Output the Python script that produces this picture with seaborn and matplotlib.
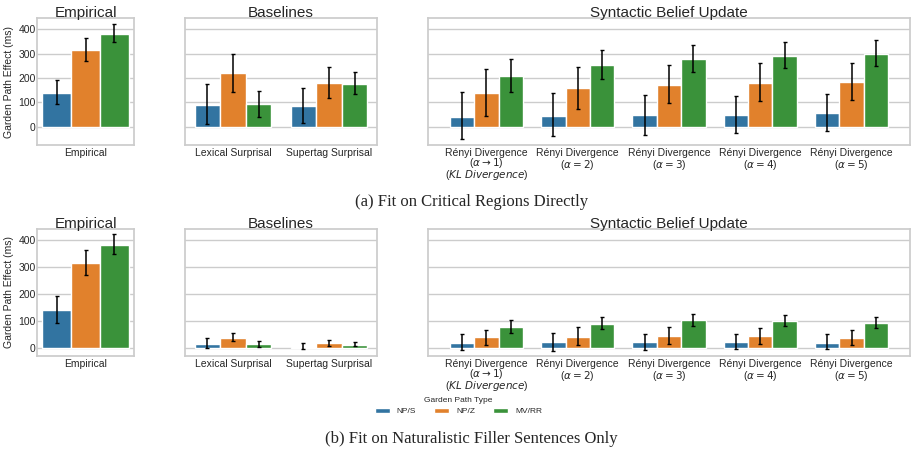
import numpy as np
import pandas as pd
import matplotlib.pyplot as plt
import seaborn as sns
from matplotlib.patches import Patch

# Garden path types (hue)
gp_types = ["NP/S", "NP/Z", "MV/RR"]

# Model groups
empirical_models = ["Empirical"]
baseline_models = ["Lexical Surprisal", "Supertag Surprisal"]
sbu_models = [
    "Rényi Divergence\n($\\alpha \\rightarrow 1$)\n($\\mathit{KL\\ Divergence}$)",
    "Rényi Divergence\n($\\alpha = 2$)",
    "Rényi Divergence\n($\\alpha = 3$)",
    "Rényi Divergence\n($\\alpha = 4$)",
    "Rényi Divergence\n($\\alpha = 5$)",
]
all_models = empirical_models + baseline_models + sbu_models

# (a) Fit on critical regions directly: one row per model, columns NP/S, NP/Z, MV/RR
crit_mean = [
    [140, 315, 381],
    [89, 219, 92],
    [85, 179, 177],
    [42, 137, 207],
    [45, 158, 252],
    [47, 171, 278],
    [48, 179, 292],
    [55, 182, 301],
]
crit_lo = [
    [93, 272, 347],
    [10, 141, 41],
    [14, 119, 133],
    [-51, 44, 141],
    [-40, 75, 195],
    [-32, 96, 227],
    [-27, 104, 240],
    [-19, 110, 251],
]
crit_hi = [
    [192, 363, 421],
    [174, 301, 149],
    [160, 244, 226],
    [141, 236, 277],
    [137, 244, 314],
    [129, 253, 338],
    [127, 260, 349],
    [136, 260, 356],
]

# (b) Fit on naturalistic filler sentences only
filler_mean = [
    [140, 315, 381],
    [14, 37, 14],
    [5, 17, 12],
    [20, 39, 77],
    [21, 42, 89],
    [21, 46, 103],
    [21, 43, 99],
    [20, 37, 92],
]
filler_lo = [
    [93, 272, 347],
    [-1, 24, 4],
    [-5, 7, 6],
    [-9, 12, 57],
    [-10, 11, 71],
    [-6, 16, 82],
    [-4, 16, 82],
    [-4, 12, 75],
]
filler_hi = [
    [192, 363, 421],
    [35, 56, 27],
    [19, 30, 21],
    [52, 68, 102],
    [56, 77, 113],
    [53, 78, 124],
    [52, 75, 123],
    [50, 67, 113],
]


def to_frame(mean, lo, hi):
    rows = []
    for i, m in enumerate(all_models):
        for j, t in enumerate(gp_types):
            rows.append({"model": m, "type": t, "effect": mean[i][j],
                         "lo": lo[i][j], "hi": hi[i][j]})
    return pd.DataFrame(rows)


df_crit = to_frame(crit_mean, crit_lo, crit_hi)
df_filler = to_frame(filler_mean, filler_lo, filler_hi)

sns.set_theme(style="whitegrid")
plt.rcParams["font.family"] = ["Liberation Sans", "DejaVu Sans"]

fig = plt.figure(figsize=(9.17, 4.57), dpi=100)

W, H = 917.0, 457.0
cols = [(37, 97, empirical_models, "Empirical", (-0.45, 0.45)),
        (185, 192, baseline_models, "Baselines", (-0.5, 1.5)),
        (428, 482, sbu_models, "Syntactic Belief Update", (-0.64, 4.64))]
rows = [(18, 145, df_crit, (-75, 447)),
        (229, 356, df_filler, (-30, 441))]

palette = sns.color_palette("tab10", n_colors=3)

for top, bottom, df, ylim in rows:
    for k, (left, width, models, title, xlim) in enumerate(cols):
        ax = fig.add_axes([left / W, 1 - bottom / H, width / W, (bottom - top) / H])
        sub = df[df["model"].isin(models)]
        sns.barplot(data=sub, x="model", y="effect", hue="type", order=models,
                    hue_order=gp_types, palette=palette, errorbar=None,
                    width=0.8, legend=False, ax=ax)
        # error bars at each bar's centre
        for h, cont in zip(gp_types, ax.containers):
            for bar in cont:
                xc = bar.get_x() + bar.get_width() / 2
                m = models[int(round(xc))]
                r = sub[(sub["model"] == m) & (sub["type"] == h)].iloc[0]
                ax.errorbar(xc, r["effect"],
                            yerr=[[r["effect"] - r["lo"]], [r["hi"] - r["effect"]]],
                            fmt="none", ecolor="black", elinewidth=1.1,
                            capsize=1.5, capthick=1.0)
        ax.set_xlim(*xlim)
        ax.set_ylim(*ylim)
        ax.set_yticks([0, 100, 200, 300, 400])
        ax.set_xlabel("")
        ax.set_title(title, fontsize=11, pad=0.5)
        ax.tick_params(axis="x", labelsize=7.5, pad=2, length=0)
        ax.tick_params(axis="y", labelsize=7.5, pad=1, length=0)
        for lab in ax.get_xticklabels():
            if "KL" in lab.get_text():
                lab.set_linespacing(0.82)
            else:
                lab.set_linespacing(1.0)
        if k == 0:
            ax.set_ylabel("Garden Path Effect (ms)", fontsize=7.5)
            ax.yaxis.set_label_coords(-0.24, 0.5)
        else:
            ax.set_ylabel("")
            ax.set_yticklabels([])

fig.text(0.514, 0.558, "(a) Fit on Critical Regions Directly",
         ha="center", va="center", fontsize=12, family=["Liberation Serif"])
fig.text(0.514, 0.039, "(b) Fit on Naturalistic Filler Sentences Only",
         ha="center", va="center", fontsize=12, family=["Liberation Serif"])

handles = [Patch(facecolor=c, edgecolor="w")
           for c in sns.color_palette("tab10", n_colors=3, desat=0.75)]
fig.legend(handles, gp_types, title="Garden Path Type", loc="center",
           bbox_to_anchor=(0.5, 1 - 406 / H), ncol=3, frameon=False,
           fontsize=6, title_fontsize=6, handlelength=1.8, handleheight=0.6,
           columnspacing=2.2, handletextpad=0.8)

fig.savefig("out.png", dpi=100)
